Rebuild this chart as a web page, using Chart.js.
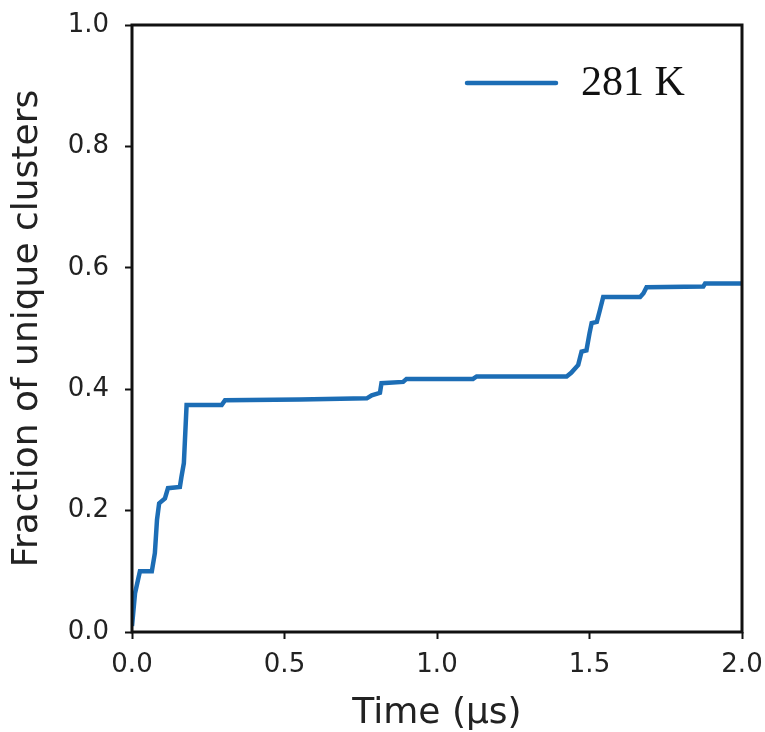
<!DOCTYPE html>
<html>
<head>
<meta charset="utf-8">
<script src="https://cdn.jsdelivr.net/npm/chart.js@4.4.1/dist/chart.umd.min.js"></script>
<style>
  html, body { margin: 0; padding: 0; background: #fff; }
  #wrap { width: 765px; height: 732px; }
</style>
</head>
<body>
<div id="wrap"><canvas id="c" width="765" height="732"></canvas></div>
<script>
// values
const seriesLabel = '281 K';
const times = [0, 0.01, 0.026, 0.065, 0.075, 0.082, 0.089, 0.108, 0.118, 0.157, 0.162, 0.17, 0.179,
  0.294, 0.305, 0.55, 0.77, 0.786, 0.813, 0.818, 0.889, 0.90, 1.118, 1.13, 1.207, 1.425, 1.44,
  1.463, 1.474, 1.49, 1.50, 1.507, 1.524, 1.534, 1.545, 1.666, 1.677, 1.687, 1.873, 1.879, 2.0];
const fractions = [0.01, 0.064, 0.10, 0.10, 0.13, 0.185, 0.212, 0.22, 0.237, 0.239, 0.255, 0.278, 0.374,
  0.374, 0.382, 0.383, 0.385, 0.39, 0.394, 0.41, 0.412, 0.417, 0.417, 0.421, 0.421, 0.421, 0.427,
  0.44, 0.462, 0.464, 0.492, 0.509, 0.511, 0.53, 0.552, 0.552, 0.558, 0.568, 0.569, 0.574, 0.574];
const xTicks = [0, 0.5, 1.0, 1.5, 2.0];
const yTicks = [0, 0.2, 0.4, 0.6, 0.8, 1.0];

const lineColor = '#1c6db5';
const tickFont = { family: 'DejaVu Sans', size: 26 };
const titleFont = { family: 'DejaVu Sans', size: 36, lineHeight: 1 };

// frame around the plot area + legend inside it
const framePlugin = {
  id: 'frame',
  afterDatasetsDraw(chart) {
    const { ctx, chartArea: a } = chart;
    ctx.save();
    ctx.strokeStyle = '#111';
    ctx.lineWidth = 3;
    ctx.strokeRect(a.left, a.top, a.right - a.left, a.bottom - a.top);

    // legend
    ctx.strokeStyle = lineColor;
    ctx.lineWidth = 4.5;
    ctx.lineCap = 'round';
    ctx.beginPath();
    ctx.moveTo(467, 83);
    ctx.lineTo(556, 83);
    ctx.stroke();
    ctx.fillStyle = '#111';
    ctx.font = '42px "Liberation Serif"';
    ctx.textBaseline = 'middle';
    ctx.textAlign = 'left';
    ctx.fillText(chart.data.datasets[0].label, 581, 84);
    ctx.restore();
  }
};

new Chart(document.getElementById('c'), {
  type: 'line',
  data: {
    datasets: [{
      label: seriesLabel,
      data: times.map((t, i) => ({ x: t, y: fractions[i] })),
      borderColor: lineColor,
      borderWidth: 4.5,
      pointRadius: 0,
      tension: 0,
      fill: false,
    }],
  },
  plugins: [framePlugin],
  options: {
    responsive: false,
    animation: false,
    layout: { padding: { top: 25, right: 23, left: 0, bottom: 0 } },
    scales: {
      x: {
        type: 'linear',
        min: 0,
        max: 2.0,
        afterBuildTicks: (s) => { s.ticks = xTicks.map(v => ({ value: v })); },
        afterFit: (s) => { s.height = 100; s.paddingLeft = 0; s.paddingRight = 0; },
        grid: { drawOnChartArea: false, drawTicks: true, tickLength: 7, tickWidth: 2, tickColor: '#111' },
        border: { display: false },
        ticks: { font: tickFont, color: '#222', padding: 11, maxRotation: 0, callback: (v) => v.toFixed(1) },
        title: { display: true, text: 'Time (µs)', font: titleFont, color: '#222', padding: { top: 0, bottom: 0 } },
      },
      y: {
        min: 0,
        max: 1.0,
        afterBuildTicks: (s) => { s.ticks = yTicks.map(v => ({ value: v })); },
        afterFit: (s) => { s.width = 132; s.paddingTop = 0; s.paddingBottom = 0; },
        grid: { drawOnChartArea: false, drawTicks: true, tickLength: 7, tickWidth: 2, tickColor: '#111' },
        border: { display: false },
        ticks: { font: tickFont, color: '#222', padding: 16, callback: (v) => v.toFixed(1) },
        title: { display: true, text: 'Fraction of unique clusters', font: titleFont, color: '#222', padding: { top: 10, bottom: 0 } },
      },
    },
    plugins: {
      legend: { display: false },
      tooltip: { enabled: false },
    },
  },
});
</script>
</body>
</html>
